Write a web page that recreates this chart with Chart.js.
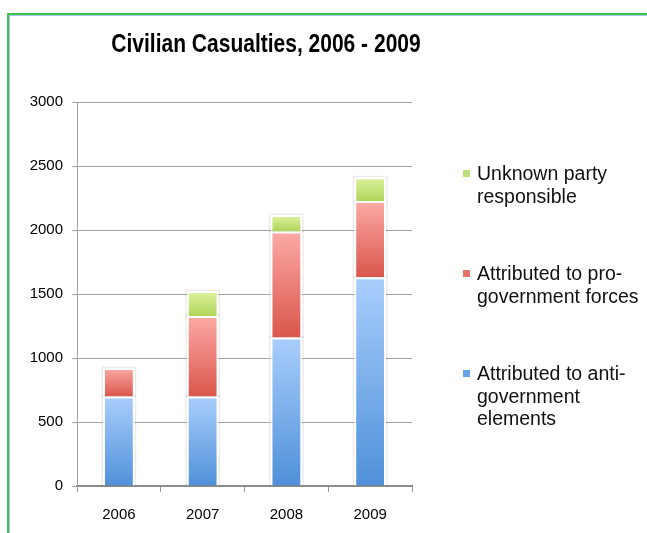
<!DOCTYPE html>
<html>
<head>
<meta charset="utf-8">
<script src="https://cdn.jsdelivr.net/npm/chart.js@4/dist/chart.umd.min.js"></script>
<style>
  html, body { margin: 0; padding: 0; background: #fff; }
  #wrap { position: relative; width: 647px; height: 533px; overflow: hidden; font-family: "Liberation Sans", Arial, sans-serif; }
  #frame { position: absolute; left: 7px; top: 13px; right: -4px; bottom: -4px;
           border-left: 2px solid #3ec44b; border-top: 2px solid #3ec44b;
           box-shadow: inset 1px 1px 0 #a9c6ee; }
  #chart { position: absolute; left: 0; top: 0; }
  #titre { position: absolute; left: 66px; width: 400px; top: 30px; text-align: center;
           font-size: 21px; font-weight: bold; line-height: 28px; color: #000;
           transform: scaleY(1.2); }
  .leg { position: absolute; left: 463px; font-size: 19.5px; line-height: 22.5px; color: #111; }
  .leg .box { position: absolute; left: 0; top: 8px; width: 7px; height: 7px; }
  .leg .txt { position: absolute; left: 14px; top: 0; white-space: nowrap; }
</style>
</head>
<body>
<div id="wrap">
  <div id="frame"></div>
  <canvas id="chart" width="647" height="533"></canvas>
  <div id="titre">Civilian Casualties, 2006 - 2009</div>
  <div id="legend"></div>
</div>
<script>
// Données
const annees = ['2006', '2007', '2008', '2009'];
const antiGouv = [700, 700, 1160, 1630];
const proGouv = [222, 629, 828, 596];
const inconnu = [0, 194, 130, 186];
const ticksY = [0, 500, 1000, 1500, 2000, 2500, 3000];

const labelsSeries = [
    ['Attributed to anti-', 'government', 'elements'],
    ['Attributed to pro-', 'government forces'],
    ['Unknown party', 'responsible']
];

// Couleurs des dégradés (haut, bas) et de la légende
const couleurs = [
    ['#a9cefc', '#4f90d9'],
    ['#fcaaa5', '#da564b'],
    ['#ddf3a0', '#b0d45a']
];
const couleursLegende = ['#6aa5e8', '#e6726a', '#bede78'];
const series = [antiGouv, proGouv, inconnu];

function degrade(ctx) {
    const chart = ctx.chart;
    const yScale = chart.scales.y;
    const ds = ctx.datasetIndex;
    const i = ctx.dataIndex;
    if (!yScale || i === undefined) return couleurs[ds][1];
    let base = 0;
    for (let k = 0; k < ds; k++) base += series[k][i];
    const top = base + series[ds][i];
    const y0 = yScale.getPixelForValue(top);
    const y1 = yScale.getPixelForValue(base);
    if (!isFinite(y0) || !isFinite(y1) || y0 === y1) return couleurs[ds][1];
    const g = chart.ctx.createLinearGradient(0, y0, 0, y1);
    g.addColorStop(0, couleurs[ds][0]);
    g.addColorStop(1, couleurs[ds][1]);
    return g;
}

// Ombre légère autour des barres
const ombreBarres = {
    id: 'ombreBarres',
    beforeDatasetsDraw(chart) {
        const ctx = chart.ctx;
        ctx.save();
        ctx.strokeStyle = 'rgba(0,0,0,0.08)';
        ctx.lineWidth = 1.5;
        chart.data.datasets.forEach((d, k) => {
            chart.getDatasetMeta(k).data.forEach((el, i) => {
                if (!series[k][i]) return;
                const p = el.getProps(['x', 'y', 'base', 'width']);
                ctx.strokeRect(p.x - p.width / 2 - 0.75, p.y - 0.75, p.width + 1.5, p.base - p.y + 0.75);
            });
        });
        ctx.restore();
    }
};

const datasets = series.map((vals, k) => ({
    label: labelsSeries[k].join(' '),
    data: vals,
    backgroundColor: degrade,
    borderColor: '#ffffff',
    borderWidth: 2,
    barPercentage: 0.38,
    categoryPercentage: 1
}));

const police = { family: '"Liberation Sans", Arial, sans-serif', size: 15 };

new Chart(document.getElementById('chart'), {
    type: 'bar',
    data: { labels: annees, datasets: datasets },
    plugins: [ombreBarres],
    options: {
        responsive: false,
        animation: false,
        layout: { padding: { left: 10, right: 235, top: 102, bottom: 0 } },
        plugins: {
            legend: { display: false },
            tooltip: { enabled: false }
        },
        scales: {
            x: {
                stacked: true,
                afterFit: s => { s.height = 47; },
                grid: { drawOnChartArea: false, drawTicks: true, tickLength: 6, color: '#999' },
                border: { color: '#8c8c8c', width: 2 },
                ticks: { color: '#000', padding: 14, font: police }
            },
            y: {
                stacked: true,
                min: 0,
                max: 3000,
                afterFit: s => { s.width = 67; },
                afterBuildTicks: s => { s.ticks = ticksY.map(v => ({ value: v })); },
                grid: { color: '#a3a3a3', tickLength: 5 },
                border: { color: '#a3a3a3' },
                ticks: { color: '#000', padding: 9, font: police, callback: v => String(v) }
            }
        }
    }
});

// Légende (ordre inversé)
const legTops = [362, 262, 162];
const legend = document.getElementById('legend');
labelsSeries.forEach((lines, k) => {
    const d = document.createElement('div');
    d.className = 'leg';
    d.style.top = legTops[k] + 'px';
    d.innerHTML = '<div class="box" style="background:' + couleursLegende[k] + '"></div>' +
        '<div class="txt">' + lines.join('<br>') + '</div>';
    legend.appendChild(d);
});
</script>
</body>
</html>
